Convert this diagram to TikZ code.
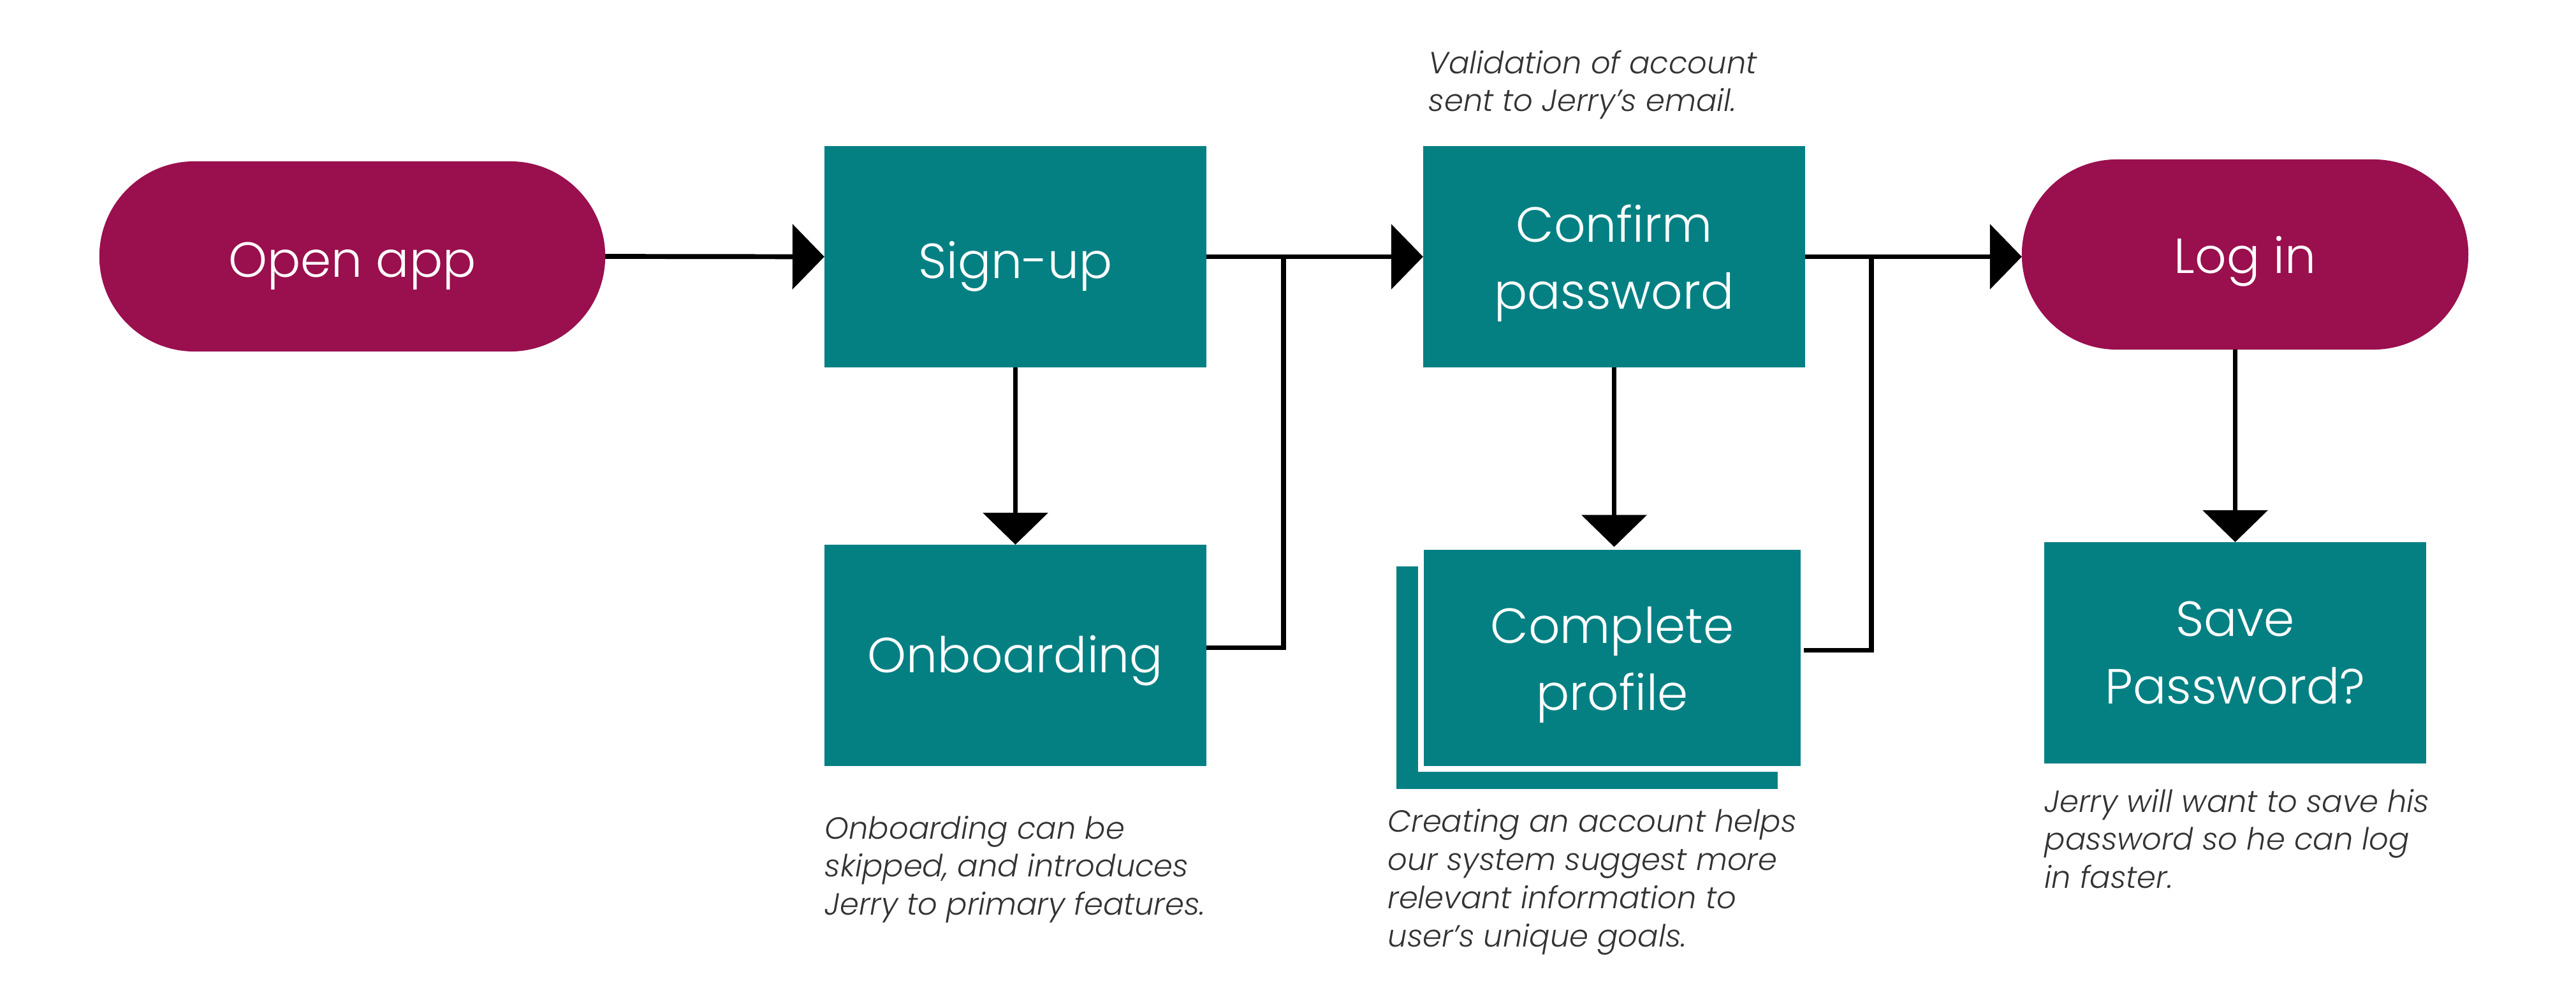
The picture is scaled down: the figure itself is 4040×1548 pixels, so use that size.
\documentclass[tikz,border=0pt]{standalone}
\usepackage{fontspec}
\setmainfont{Poppins Light}[ItalicFont={Poppins Light Italic}]
\usetikzlibrary{arrows.meta}
\definecolor{tealbox}{RGB}{4,128,131}
\definecolor{purp}{RGB}{154,15,78}
\definecolor{notegray}{RGB}{51,51,51}
\begin{document}
\begin{tikzpicture}[x=0.01cm,y=-0.01cm,
  box/.style={rectangle, fill=tealbox, minimum width=5.99cm, minimum height=3.47cm,
    inner sep=0pt, outer sep=0pt, text=white, align=center, font=\fontsize{22}{30}\selectfont},
  term/.style={rectangle, rounded corners=1.49cm, fill=purp, minimum height=2.98cm,
    inner sep=0pt, outer sep=0pt, text=white, align=center, font=\fontsize{22}{30}\selectfont},
  lower/.style={text depth=0pt, text height=#1},
  note/.style={anchor=west, align=left, inner sep=0pt, text=notegray,
    font=\fontsize{13.65}{17}\selectfont\itshape},
  wire/.style={draw=black, line width=0.077cm},
  conn/.style={wire, -{Triangle[length=0.5cm,width=1.01cm]}}]
\path[use as bounding box] (0,0) rectangle (4040,1548);

\node[term, minimum width=7.93cm, lower=18.4pt] (open) at (552.5,402) {Open app};
\node[box, lower=19.4pt] (signup) at (1592.5,402.5) {Sign-up};
\node[box, lower=15.6pt] (onboard) at (1592.5,1027.5) {Onboarding};
\node[box, lower=46.8pt] (confirm) at (2531.5,402.5) {Confirm\\password};
\node[box, minimum width=5.98cm, minimum height=3.49cm] (shadow) at (2489,1062.5) {};
\node[box, minimum width=6.00cm, minimum height=3.48cm, draw=white, line width=0.09cm, lower=46.8pt] (complete) at (2528.5,1031.5) {Complete\\profile};
\node[term, minimum width=7.00cm, lower=17pt] (login) at (3521,399) {Log in};
\node[box] (save) at (3505.5,1023.5) {Save\\Password?};

\node[note] (n1) at (2240,133) {Validation of account\\sent to Jerry’s email.};
\node[note] (n2) at (1293,1363) {Onboarding can be\\skipped, and introduces\\Jerry to primary features.};
\node[note] (n3) at (2176,1383) {Creating an account helps\\our system suggest more\\relevant information to\\user’s unique goals.};
\node[note] (n4) at (3206,1315) {Jerry will want to save his\\password so he can log\\in faster.};

\coordinate (j1) at (2013,402.5);
\coordinate (j2) at (2935,402.5);

\draw[conn] (open.east) -- (signup.west);
\draw[conn] (signup.east) -- (confirm.west);
\draw[wire] ([yshift=0.12cm]onboard.east) -| (j1);
\draw[conn] (confirm.east) -- (confirm.east -| login.west);
\draw[wire] ([yshift=0.12cm]complete.east) -| (j2);
\draw[conn] (signup.south) -- (onboard.north);
\draw[conn] (confirm.south) -- (confirm.south |- complete.north);
\draw[conn] (login.south -| save.north) -- (save.north);
\end{tikzpicture}
\end{document}
